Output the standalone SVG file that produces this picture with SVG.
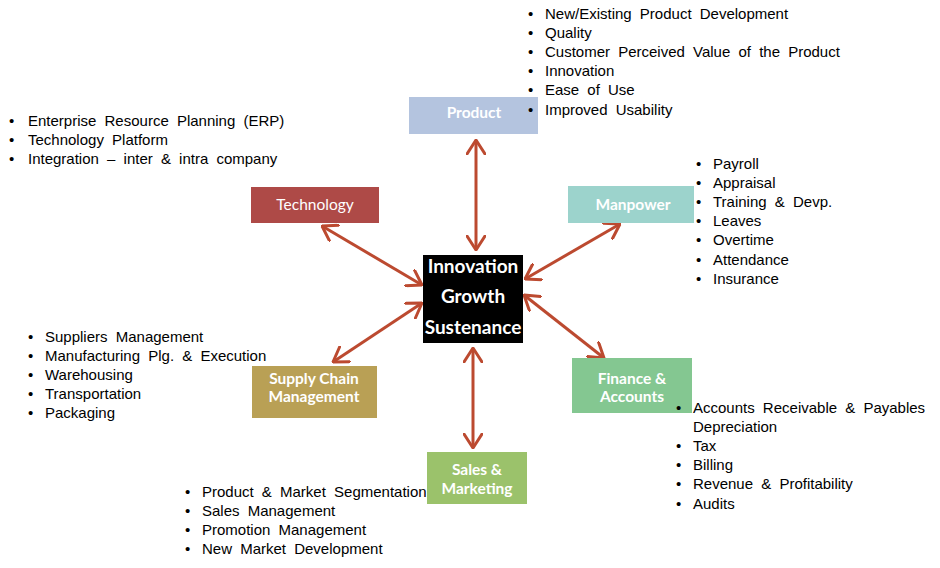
<svg xmlns="http://www.w3.org/2000/svg" width="940" height="568" viewBox="0 0 940 568">
<style>
.lbl{font-family:Lato,"Open Sans","Liberation Sans",sans-serif;font-weight:bold;font-size:15.5px;fill:#fff;text-anchor:middle}
.ctr{font-family:Lato,"Open Sans","Liberation Sans",sans-serif;font-weight:bold;font-size:19px;fill:#fff;text-anchor:middle}
.lst{font-family:"Liberation Sans",Arial,sans-serif;font-size:15px;fill:#000;word-spacing:4px}
.arr{stroke:#BC4A30;stroke-width:3;fill:none;marker-start:url(#ah);marker-end:url(#ah)}
</style>
<defs>
<marker id="ah" viewBox="0 0 16 20" refX="15" refY="10" markerWidth="16" markerHeight="20" markerUnits="userSpaceOnUse" orient="auto-start-reverse">
<path d="M1,1 L15,10 L1,19" fill="none" stroke="#BC4A30" stroke-width="3" stroke-linecap="round" stroke-linejoin="round"/>
</marker>
</defs>
<rect width="940" height="568" fill="#fff"/>
<g id="connectors">
<line class="arr" x1="476" y1="140" x2="476" y2="250"/>
<line class="arr" x1="322" y1="226" x2="422" y2="285"/>
<line class="arr" x1="620" y1="224" x2="525" y2="279"/>
<line class="arr" x1="422" y1="303" x2="333" y2="362"/>
<line class="arr" x1="524" y1="295" x2="604" y2="358"/>
<line class="arr" x1="473" y1="348" x2="473" y2="448"/>
</g>
<g id="center">
<rect x="423" y="255" width="100" height="88" fill="#000"/>
<text class="ctr" x="473" y="273">Innovation</text>
<text class="ctr" x="473" y="303">Growth</text>
<text class="ctr" x="473" y="334">Sustenance</text>
</g>
<g id="product">
<rect x="409" y="97" width="129" height="37" fill="#B4C4DF"/>
<text class="lbl" x="474" y="118">Product</text>
</g>
<g id="technology">
<rect x="251" y="187" width="128" height="36" fill="#AE4A47"/>
<text class="lbl" x="315" y="210" style="font-weight:normal">Technology</text>
</g>
<g id="manpower">
<rect x="568" y="186" width="126" height="37" fill="#9CD3CC"/>
<text class="lbl" x="633" y="210">Manpower</text>
</g>
<g id="finance">
<rect x="572" y="358" width="120" height="55" fill="#84C791"/>
<text class="lbl" x="632" y="384">Finance &amp;</text>
<text class="lbl" x="632" y="402">Accounts</text>
</g>
<g id="supplychain">
<rect x="252" y="366" width="125" height="52" fill="#B9A055"/>
<text class="lbl" x="314" y="384">Supply Chain</text>
<text class="lbl" x="314" y="402">Management</text>
</g>
<g id="sales">
<rect x="427" y="452" width="100" height="52" fill="#9BC26B"/>
<text class="lbl" x="477" y="475">Sales &amp;</text>
<text class="lbl" x="477" y="494">Marketing</text>
</g>
<g id="list-product">
<text class="lst" x="528" y="19">•</text><text class="lst" x="545" y="19">New/Existing Product Development</text>
<text class="lst" x="528" y="38">•</text><text class="lst" x="545" y="38">Quality</text>
<text class="lst" x="528" y="57">•</text><text class="lst" x="545" y="57">Customer Perceived Value of the Product</text>
<text class="lst" x="528" y="76">•</text><text class="lst" x="545" y="76">Innovation</text>
<text class="lst" x="528" y="95">•</text><text class="lst" x="545" y="95">Ease of Use</text>
<text class="lst" x="528" y="115">•</text><text class="lst" x="545" y="115">Improved Usability</text>
</g>
<g id="list-technology">
<text class="lst" x="9" y="126">•</text><text class="lst" x="28" y="126">Enterprise Resource Planning (ERP)</text>
<text class="lst" x="9" y="145">•</text><text class="lst" x="28" y="145">Technology Platform</text>
<text class="lst" x="9" y="164">•</text><text class="lst" x="28" y="164">Integration – inter &amp; intra company</text>
</g>
<g id="list-manpower">
<text class="lst" x="696" y="169">•</text><text class="lst" x="713" y="169">Payroll</text>
<text class="lst" x="696" y="188">•</text><text class="lst" x="713" y="188">Appraisal</text>
<text class="lst" x="696" y="207">•</text><text class="lst" x="713" y="207">Training &amp; Devp.</text>
<text class="lst" x="696" y="226">•</text><text class="lst" x="713" y="226">Leaves</text>
<text class="lst" x="696" y="245">•</text><text class="lst" x="713" y="245">Overtime</text>
<text class="lst" x="696" y="265">•</text><text class="lst" x="713" y="265">Attendance</text>
<text class="lst" x="696" y="284">•</text><text class="lst" x="713" y="284">Insurance</text>
</g>
<g id="list-supplychain">
<text class="lst" x="28" y="342">•</text><text class="lst" x="45" y="342">Suppliers Management</text>
<text class="lst" x="28" y="361">•</text><text class="lst" x="45" y="361">Manufacturing Plg. &amp; Execution</text>
<text class="lst" x="28" y="380">•</text><text class="lst" x="45" y="380">Warehousing</text>
<text class="lst" x="28" y="399">•</text><text class="lst" x="45" y="399">Transportation</text>
<text class="lst" x="28" y="418">•</text><text class="lst" x="45" y="418">Packaging</text>
</g>
<g id="list-finance">
<text class="lst" x="676" y="413">•</text><text class="lst" x="693" y="413">Accounts Receivable &amp; Payables</text>
<text class="lst" x="693" y="432">Depreciation</text>
<text class="lst" x="676" y="451">•</text><text class="lst" x="693" y="451">Tax</text>
<text class="lst" x="676" y="470">•</text><text class="lst" x="693" y="470">Billing</text>
<text class="lst" x="676" y="489">•</text><text class="lst" x="693" y="489">Revenue &amp; Profitability</text>
<text class="lst" x="676" y="509">•</text><text class="lst" x="693" y="509">Audits</text>
</g>
<g id="list-sales">
<text class="lst" x="185" y="497">•</text><text class="lst" x="202" y="497">Product &amp; Market Segmentation</text>
<text class="lst" x="185" y="516">•</text><text class="lst" x="202" y="516">Sales Management</text>
<text class="lst" x="185" y="535">•</text><text class="lst" x="202" y="535">Promotion Management</text>
<text class="lst" x="185" y="554">•</text><text class="lst" x="202" y="554">New Market Development</text>
</g>
</svg>
